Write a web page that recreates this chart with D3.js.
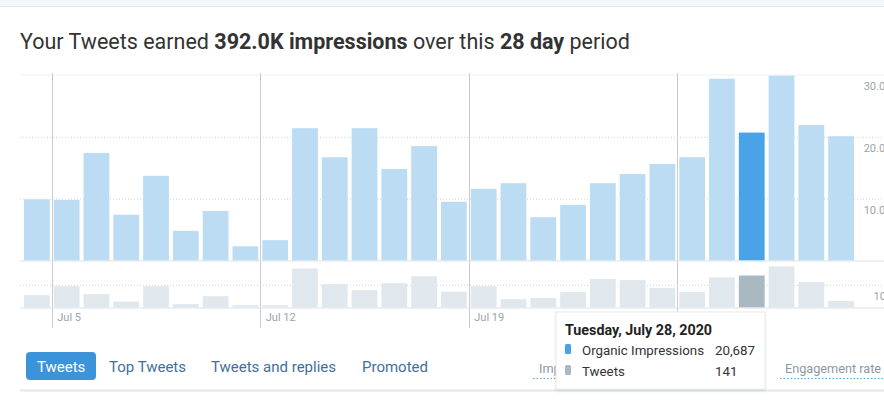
<!DOCTYPE html>
<html lang="en">
<head>
<meta charset="utf-8">
<title>Tweet impressions</title>
<script src="https://d3js.org/d3.v7.min.js"></script>
<style>
  body { margin: 0; background: #fff; font-family: Roboto, "Noto Sans", sans-serif; }
  svg { display: block; }
  .grid-dot { stroke: #cfd4d8; stroke-dasharray: 1 2; }
  .base { stroke: #dde3e8; }
  .axis text { fill: #9aa5ae; font-size: 11px; font-family: Roboto, sans-serif; }
</style>
</head>
<body>
<svg id="chart" width="884" height="407"></svg>
<script>
// 28 days, Jul 4 - Jul 31 2020
const days = d3.range(28).map(i => new Date(2020, 6, 4 + i));
const impressions = [9900, 9800, 17400, 7400, 13700, 4800, 8000, 2300, 3300, 21400,
  16700, 21400, 14800, 18500, 9500, 11600, 12500, 7000, 9000, 12500,
  14000, 15600, 16700, 29400, 20687, 29900, 21900, 20100];
const tweets = [54, 94, 59, 26, 94, 15, 50, 10, 10, 172,
  103, 76, 107, 138, 70, 94, 37, 42, 68, 126,
  121, 86, 68, 133, 141, 181, 112, 29];
const impTicks = [10000, 20000, 30000];
const tweetTicks = [100];
const selected = 24;
const tabs = ["Tweets", "Top Tweets", "Tweets and replies", "Promoted"];

const svg = d3.select("#chart");

// top strip
svg.append("rect").attr("width", 884).attr("height", 6).attr("fill", "#f5f8fa");
svg.append("line").attr("x1", 0).attr("x2", 884).attr("y1", 6.5).attr("y2", 6.5)
  .attr("stroke", "#e1e8ed");

// title
const title = svg.append("text").attr("x", 20).attr("y", 49)
  .attr("font-size", 21.5).attr("fill", "#333");
title.append("tspan").text("Your Tweets earned ");
title.append("tspan").attr("font-weight", 700).text("392.0K impressions");
title.append("tspan").text(" over this ");
title.append("tspan").attr("font-weight", 700).text("28 day");
title.append("tspan").text(" period");

// scales
const x = d3.scaleTime()
  .domain([new Date(2020, 6, 4), new Date(2020, 7, 1)])
  .range([22, 856]);
const yImp = d3.scaleLinear().domain([0, 30000]).range([260.5, 75]);
const yTw = d3.scaleLinear().domain([0, 200]).range([307.5, 262.1]);

// grid
svg.append("line").attr("x1", 20).attr("x2", 884)
  .attr("y1", yImp(30000)).attr("y2", yImp(30000)).attr("stroke", "#f0f2f4");
svg.selectAll(".gi").data(impTicks.slice(0, 2)).join("line")
  .attr("class", "grid-dot")
  .attr("x1", 20).attr("x2", 884)
  .attr("y1", d => yImp(d) + 0.5).attr("y2", d => yImp(d) + 0.5);
svg.selectAll(".gt").data(tweetTicks).join("line")
  .attr("class", "grid-dot")
  .attr("x1", 20).attr("x2", 884)
  .attr("y1", d => yTw(d) + 0.5).attr("y2", d => yTw(d) + 0.5);

// week lines
const weeks = x.ticks(d3.timeWeek.every(1)).filter(d => d > x.domain()[0]);
svg.selectAll(".wk").data(weeks).join("line")
  .attr("x1", d => Math.round(x(d)) + 0.5).attr("x2", d => Math.round(x(d)) + 0.5)
  .attr("y1", 73).attr("y2", 328)
  .attr("stroke", "#c9cdd1");

// bars
const dayW = x(days[1]) - x(days[0]);
svg.selectAll(".imp").data(days).join("rect")
  .attr("x", d => x(d) + 2)
  .attr("width", dayW - 4)
  .attr("y", (d, i) => yImp(impressions[i]))
  .attr("height", (d, i) => yImp(0) - yImp(impressions[i]))
  .attr("fill", (d, i) => i === selected ? "#4aa3e6" : "#bcdcf4");

svg.selectAll(".tw").data(days).join("rect")
  .attr("x", d => x(d) + 2)
  .attr("width", dayW - 4)
  .attr("y", (d, i) => yTw(tweets[i]))
  .attr("height", (d, i) => yTw(0) - yTw(tweets[i]))
  .attr("fill", (d, i) => i === selected ? "#aab8c2" : "#e1e8ed");

// baselines
[yImp(0), yTw(0)].forEach(y => {
  svg.append("line").attr("class", "base").attr("x1", 20).attr("x2", 884)
    .attr("y1", y + 0.5).attr("y2", y + 0.5);
});

// axes
const axImp = svg.append("g").attr("class", "axis").attr("transform", "translate(892,11)")
  .call(d3.axisLeft(yImp).tickValues(impTicks).tickSize(0).tickPadding(0)
    .tickFormat(d => d3.format(".1f")(d / 1000) + "K"));
const axTw = svg.append("g").attr("class", "axis").attr("transform", "translate(892,11)")
  .call(d3.axisLeft(yTw).tickValues(tweetTicks).tickSize(0).tickPadding(0));
const axX = svg.append("g").attr("class", "axis").attr("transform", "translate(0,312)")
  .call(d3.axisBottom(x).tickValues(weeks).tickSize(0).tickPadding(0)
    .tickFormat(d3.timeFormat("%b %-d")));
axX.selectAll("text").attr("text-anchor", "start").attr("dx", 5).attr("dy", "0.8em");
[axImp, axTw, axX].forEach(a => a.select(".domain").remove());

// tabs
const tabX = [37, 109, 211, 362];
svg.append("rect").attr("x", 26).attr("y", 352).attr("width", 70).attr("height", 28)
  .attr("rx", 4).attr("fill", "#3b94d9");
svg.selectAll(".tab").data(tabs).join("text")
  .attr("x", (d, i) => tabX[i]).attr("y", 372)
  .attr("font-size", 15)
  .attr("fill", (d, i) => i === 0 ? "#fff" : "#3f6f9c")
  .text(d => d);
svg.append("line").attr("x1", 20).attr("x2", 884).attr("y1", 390.5).attr("y2", 390.5)
  .attr("stroke", "#e1e8ed").attr("stroke-width", 2);

// metric selectors
[["Impressions", 539, 533, 600], ["Engagement rate", 785, 780, 884]].forEach(([t, tx, lx, rx]) => {
  svg.append("text").attr("x", tx).attr("y", 373).attr("font-size", 12.7)
    .attr("fill", "#8899a6").text(t);
  svg.append("line").attr("x1", lx).attr("x2", rx)
    .attr("y1", 378.5).attr("y2", 378.5)
    .attr("stroke", "#55a3dc").attr("stroke-dasharray", "1.5 2");
});

// tooltip
const defs = svg.append("defs");
const f = defs.append("filter").attr("id", "sh").attr("x", "-10%").attr("y", "-10%")
  .attr("width", "120%").attr("height", "130%");
f.append("feDropShadow").attr("dx", 0).attr("dy", 1.5).attr("stdDeviation", 1)
  .attr("flood-color", "#000").attr("flood-opacity", 0.12);
const tip = svg.append("g").attr("transform", "translate(556,312)");
tip.append("rect").attr("width", 209).attr("height", 77)
  .attr("fill", "#fff").attr("stroke", "#e6eaed").attr("filter", "url(#sh)");
tip.append("text").attr("x", 9).attr("y", 23).attr("font-size", 14.3)
  .attr("font-weight", 700).attr("fill", "#222")
  .text(d3.timeFormat("%A, %B %-d, %Y")(days[selected]));
const rows = [
  ["Organic Impressions", d3.format(",")(impressions[selected]), "#4aa3e6"],
  ["Tweets", tweets[selected], "#aab8c2"]
];
rows.forEach(([name, val, c], i) => {
  const y = 43 + i * 21;
  tip.append("rect").attr("x", 9).attr("y", y - 11).attr("width", 6).attr("height", 10)
    .attr("rx", 1.5).attr("fill", c);
  tip.append("text").attr("x", 26).attr("y", y).attr("font-size", 13.3)
    .attr("fill", "#333").text(name);
  tip.append("text").attr("x", 159).attr("y", y).attr("font-size", 13.3)
    .attr("fill", "#333").text(val);
});
</script>
</body>
</html>
